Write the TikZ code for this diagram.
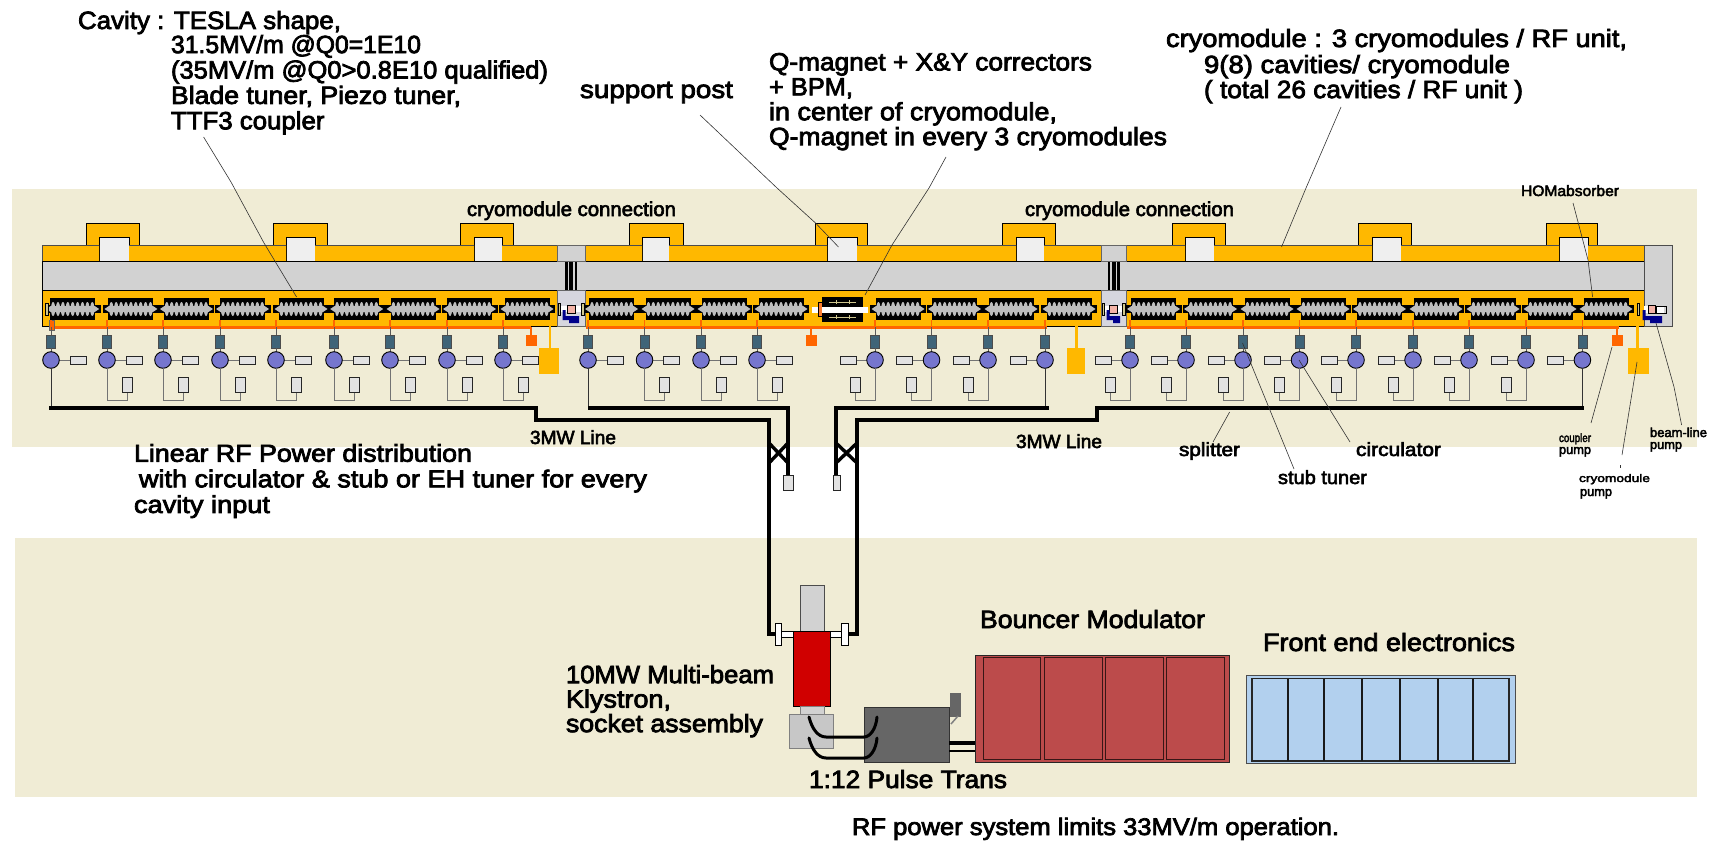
\documentclass[tikz,border=0pt]{standalone}
\usepackage{fontspec}
\usepackage{graphicx}
\setmainfont{Liberation Sans}
\newfontfamily\lf[FakeBold=3]{Liberation Sans}
\definecolor{band}{HTML}{F0ECD5}
\definecolor{cryo}{HTML}{FFB800}
\definecolor{grayp}{HTML}{D2D2D2}
\definecolor{post}{HTML}{EFEFEF}
\definecolor{circ}{HTML}{7676CE}
\definecolor{tuner}{HTML}{3F6478}
\definecolor{loadc}{HTML}{E2E2E2}
\definecolor{orng}{HTML}{FF6600}
\definecolor{modc}{HTML}{BC4B4B}
\definecolor{elec}{HTML}{B2D0EE}
\definecolor{navyb}{HTML}{00008B}
\definecolor{pinkc}{HTML}{F4B4A8}
\definecolor{tanc}{HTML}{CFC78F}
\definecolor{connc}{HTML}{D6D6DE}
\definecolor{klyred}{HTML}{D00000}
\definecolor{cavg}{HTML}{BEBEBE}
\newcommand\W[2]{\resizebox{#1pt}{\height}{#2}}
\newcommand\fs[1]{\fontsize{#1}{#1}\selectfont}
\newcommand\bump[4]{%
  \draw[line width=.9pt,fill=cryo] (#1,245) -- (#1,223) -- (#2,223) -- (#2,245);
  \draw[line width=.9pt,fill=post] (#3,261) -- (#3,237) -- (#4,237) -- (#4,261);}
\newcommand\cavity[1]{%
  \fill[black] (#1-28,305) rectangle (#1+28,313);
  \fill[black] (#1-22.5,298) rectangle (#1+22.5,320);
  \fill[cavg] (#1-26.5,309) -- (#1-22,306) -- (#1+22,306) -- (#1+26.5,309) -- (#1+22,312) -- (#1-22,312) -- cycle;
  \foreach \k in {-4,...,4}{\fill[cavg] (#1+\k*4.9,309) ellipse (2.1 and 7);}}
\newcommand\feedcore[2]{%
  \draw[wire] (#1,320) -- (#1,340);
  \draw[orng,line width=1.6pt] (#1,320) -- (#1,327);
  \fill[tuner,draw=black!70,line width=.4pt] (#1-4.5,335) rectangle (#1+4.5,348);
  \draw[wire] (#1,348) -- (#1,355);
  \draw[wireg] (#1,360) -- (#1+#2*20,360);
  \draw[boxl] (#1+#2*19,356) rectangle (#1+#2*35,364);
  \draw[line width=.9pt,fill=circ] (#1,360) circle (8.3);}
\newcommand\feedsplit[2]{%
  \feedcore{#1}{#2}%
  \draw[wireg] (#1,368) -- (#1,400) -- (#1+#2*20,400) -- (#1+#2*20,392);
  \draw[boxl] (#1+#2*15,377) rectangle (#1+#2*25,392);}
\newcommand\feedmain[2]{%
  \feedcore{#1}{#2}%
  \draw[wired] (#1,368) -- (#1,408);}
\newcommand\conn[2]{%
  \fill[black] ({(#1+#2)/2-6},261) rectangle ({(#1+#2)/2+6},290);
  \fill[grayp] ({(#1+#2)/2-3.5},261) rectangle ({(#1+#2)/2-1.8},290);
  \fill[grayp] ({(#1+#2)/2+2},261) rectangle ({(#1+#2)/2+3.8},290);
  \draw[line width=.5pt,draw=black!60,fill=grayp] (#1,245) rectangle (#2,261);
  \draw[line width=.5pt,draw=black!60,fill=connc] (#1,290) rectangle (#2,326);
  \fill[white] (#1+2,306) rectangle (#2-2,312);
  \draw[fill=tanc,line width=.4pt] (#1+1,303) rectangle (#1+3.5,315);
  \draw[fill=tanc,line width=.4pt] (#2-3.5,303) rectangle (#2-1,315);
  \draw[fill=pinkc,line width=.5pt] ({(#1+#2)/2-4},305) rectangle ({(#1+#2)/2+4},313);
  \fill[navyb] (#1+5.5,310) -- (#1+8.5,310) -- (#1+8.5,316) -- (#2-6,316) -- (#2-6,323) -- (#1+12,323) -- (#1+12,320) -- (#1+5.5,320) -- cycle;}
\begin{document}
\begin{tikzpicture}[x=1pt,y=-1pt,
  wire/.style={draw=black!65,line width=1pt},
  wireg/.style={draw=black!55,line width=1pt},
  wired/.style={draw=black!80,line width=1pt},
  boxl/.style={draw=black!85,fill=loadc,line width=.7pt},
  heavy/.style={line width=3.4pt,draw=black,line join=miter,line cap=butt},
  leader/.style={draw=black!80,line width=.6pt},
  txt/.style={inner sep=0pt,outer sep=0pt,align=left,text=black},
]
\useasboundingbox (0,0) rectangle (1712,840);
\fill[band] (11.5,189) rectangle (1697,447);
\fill[band] (15,538) rectangle (1697,797);
\bump{86}{139}{99}{129}
\bump{273}{327}{286}{315}
\bump{460}{513}{474}{502}
\bump{629}{683}{642}{669}
\bump{815}{867}{827}{857}
\bump{1002}{1055}{1016}{1044}
\bump{1172}{1225}{1185}{1214}
\bump{1358}{1411}{1372}{1401}
\bump{1546}{1597}{1559}{1588}
\begin{scope}[line width=.9pt]
\fill[cryo] (42,245) rectangle (99,261) (129,245) rectangle (286,261) (315,245) rectangle (474,261) (502,245) rectangle (557,261);
\fill[cryo] (585,245) rectangle (642,261) (669,245) rectangle (827,261) (857,245) rectangle (1016,261) (1044,245) rectangle (1101,261);
\fill[cryo] (1126,245) rectangle (1185,261) (1214,245) rectangle (1372,261) (1401,245) rectangle (1559,261) (1588,245) rectangle (1644,261);
\draw[black!70,line width=.7pt] (42,261) -- (42,245) -- (99,245) (129,245) -- (286,245) (315,245) -- (474,245) (502,245) -- (557,245) (585,245) -- (642,245) (669,245) -- (827,245) (857,245) -- (1016,245) (1044,245) -- (1101,245) (1126,245) -- (1185,245) (1214,245) -- (1372,245) (1401,245) -- (1559,245) (1588,245) -- (1644,245);
\draw[fill=grayp] (42,261) rectangle (1644,290);
\draw[black,line width=.8pt,fill=cryo] (42,290) rectangle (557,326);
\draw[black,line width=.8pt,fill=cryo] (585,290) rectangle (1101,326);
\draw[black,line width=.8pt,fill=cryo] (1126,290) rectangle (1644,326);
\end{scope}
\conn{557}{585}
\conn{1101}{1126}
\draw[black!70,line width=.7pt,fill=grayp] (1644,245) rectangle (1672,326);
\fill[white] (1644,306) rectangle (1664,313);
\draw[black,line width=.4pt] (1656,306) rectangle (1666,313);
\draw[fill=tanc,line width=.4pt] (1637,303) rectangle (1639,315);
\draw[fill=pinkc,line width=.5pt] (1648,305) rectangle (1655,313);
\fill[navyb] (1642.5,310) -- (1645.5,310) -- (1645.5,316) -- (1662,316) -- (1662,323) -- (1650,323) -- (1650,320) -- (1642.5,320) -- cycle;
\foreach \x in {72.7,130.9,186.4,242.6,301,356.7,413,469.6,527}{\cavity{\x}}
\foreach \x in {611.6,668,724,781,898,954.5,1011,1069}{\cavity{\x}}
\foreach \x in {1153.5,1210.5,1267,1323,1379.5,1436,1493,1550,1606}{\cavity{\x}}
\draw[fill=tanc,line width=.4pt] (45.6,303) rectangle (48.2,315);
\fill[white] (812,306.5) rectangle (868,312.5);
\draw[fill=orng!70!pinkc,line width=.3pt] (818,302) rectangle (822,316);
\fill[black] (822,297) rectangle (863,322);
\fill[white] (822,306.5) rectangle (868,312.5);
\draw[draw=tanc,line width=.8pt] (829,302) -- (856,302) (829,317) -- (856,317) (836,300) -- (836,304) (849,300) -- (849,304) (836,315) -- (836,319) (849,315) -- (849,319);
\draw[orng,line width=3pt] (50,327.5) -- (531,327.5);
\draw[orng,line width=3pt] (586,327.5) -- (1047,327.5);
\draw[orng,line width=3pt] (1127,327.5) -- (1619,327.5);
\fill[orng,draw=black!60,line width=.3pt] (49,320) rectangle (54,330);
\foreach \x/\y in {531/a,811/b,1617/c}{%
  \draw[orng,line width=2.6pt] (\x,327) -- (\x,337);
  \fill[orng] (\x-5.5,335) rectangle (\x+5.5,346);}
\foreach \x/\l/\r in {550/539/559,1076.5/1067/1085,1637.5/1628/1649}{%
  \draw[cryo,line width=2.6pt] (\x,326) -- (\x,349);
  \fill[cryo] (\l,348) rectangle (\r,374);}
\feedmain{51}{1}
\foreach \x in {107,163,220,276,334,390,447,503,644.5,701,757}{\feedsplit{\x}{1}}
\feedmain{588}{1}
\foreach \x in {875,931.5,988,1130,1186,1243,1299.5,1356,1413,1469,1526}{\feedsplit{\x}{-1}}
\feedmain{1045}{-1}
\feedmain{1582.4}{-1}
\draw[heavy] (49,408) -- (536,408) -- (536,420) -- (769,420) -- (769,634) -- (776,634);
\draw[heavy] (588,408) -- (788,408) -- (788,476);
\draw[heavy] (848,634) -- (857,634) -- (857,420) -- (1097,420) -- (1097,408) -- (1584,408);
\draw[heavy] (1049,408) -- (836,408) -- (836,476);
\draw[heavy] (769,443) -- (788,463) (788,443) -- (769,463);
\draw[heavy] (836,443) -- (857,463) (857,443) -- (836,463);
\draw[boxl] (783,475) rectangle (793,490);
\draw[boxl] (833,475) rectangle (840,490);
\draw[draw=black!70,line width=.9pt,fill=grayp] (800,585) rectangle (824,631);
\draw[line width=.8pt,fill=white] (775,631) rectangle (793,637);
\draw[line width=.8pt,fill=white] (830,631) rectangle (848,637);
\draw[line width=.8pt,fill=white] (775,623) rectangle (781,645);
\draw[line width=.8pt,fill=white] (841,623) rectangle (848,645);
\draw[line width=.9pt,fill=klyred] (793,631) rectangle (830,706);
\draw[draw=black!50,line width=.6pt,fill=grayp] (800,706) rectangle (824,714);
\draw[draw=black!50,line width=.6pt,fill=black!22] (789,714) rectangle (833,748);
\draw[draw=black!60,line width=.7pt,fill=black!60] (950,693) rectangle (960,716);
\draw[draw=black!50,line width=1.5pt] (951,724) -- (958,716);
\draw[draw=black!80,line width=.8pt,fill=black!60] (864,707) rectangle (949,762);
\draw[line width=3pt,line cap=round] (809,717) .. controls (812,729) and (818,737) .. (826,737) -- (864,737) .. controls (870,737) and (876,729) .. (877,717);
\draw[line width=3pt,line cap=round] (809,738) .. controls (812,750) and (818,758) .. (826,758) -- (864,758) .. controls (870,758) and (876,750) .. (877,738);
\draw[line width=3.2pt] (949,743) -- (977,743);
\draw[line width=2.2pt] (949,751) -- (977,751);
\draw[line width=1pt,draw=black!85,fill=modc] (975,655) rectangle (1229,762);
\foreach \l/\r in {983/1040,1044/1102,1105/1163,1166/1224}{\draw[draw=black!70!modc,line width=1pt] (\l,657.5) rectangle (\r,759);}
\draw[line width=.8pt,draw=black!70,fill=elec] (1246,675) rectangle (1515,763);
\draw[line width=1.2pt,draw=black!85] (1252,678.5) rectangle (1509,761);
\foreach \x in {1288,1324,1362,1400,1438,1473}{\draw[line width=1.2pt,draw=black!90] (\x,678.5) -- (\x,761);}
\draw[leader] (203.6,137) -- (231,182) -- (264,243) -- (296.6,297);
\draw[leader] (700,115) -- (777,188) -- (815.5,223) -- (838.5,247);
\draw[leader] (946,157) -- (929,188) -- (892,245) -- (865,295);
\draw[leader] (1341,107) -- (1306,188) -- (1281.5,247);
\draw[leader] (1573,203) -- (1588,260) -- (1592.6,297);
\draw[leader] (1681.6,425) -- (1674,387) -- (1656,323);
\draw[leader] (1591,423) -- (1612,347);
\draw[leader] (1622,455) -- (1637,362);
\draw[leader] (1620,465) -- (1620,468);
\draw[leader] (1213,442) -- (1229.6,412);
\draw[leader] (1350,442) -- (1299,360);
\draw[leader] (1294,469) -- (1242.5,343);
\node[txt,anchor=base west,font=\lf\fs{25}] (cav0) at (78,29) {\W{263}{Cavity : TESLA shape,}};
\node[txt,anchor=north west,font=\lf\fontsize{25}{25.4}\selectfont] (cav1) at (171,35) {\W{250}{31.5MV/m @Q0=1E10}\\\W{377}{(35MV/m @Q0>0.8E10 qualified)}\\\W{290}{Blade tuner, Piezo tuner,}\\\W{153.5}{TTF3 coupler}};
\node[txt,anchor=base west,font=\lf\fs{25}] (sup) at (580,98) {\W{153}{support post}};
\node[txt,anchor=north west,font=\lf\fontsize{25}{24.9}\selectfont] (qm) at (769,53) {\W{323}{Q-magnet + X\&Y correctors}\\\W{84}{+ BPM,}\\\W{288}{in center of cryomodule,}\\\W{398}{Q-magnet in every 3 cryomodules}};
\node[txt,anchor=base west,font=\lf\fs{25}] (cm0) at (1166,47) {\W{461}{cryomodule : 3 cryomodules / RF unit,}};
\node[txt,anchor=north west,font=\lf\fontsize{25}{25}\selectfont] (cm1) at (1204,55) {\W{306}{9(8) cavities/ cryomodule}\\\W{319}{( total 26 cavities / RF unit )}};
\node[txt,anchor=base west,font=\lf\fs{20}] (conn1) at (467,216) {\W{209}{cryomodule connection}};
\node[txt,anchor=base west,font=\lf\fs{20}] (conn2) at (1025,216) {\W{209}{cryomodule connection}};
\node[txt,anchor=base west,font=\lf\fs{15}] (hom) at (1521,196) {\W{98}{HOMabsorber}};
\node[txt,anchor=base west,font=\lf\fs{19}] (l3a) at (530,444) {\W{86}{3MW Line}};
\node[txt,anchor=base west,font=\lf\fs{19}] (l3b) at (1016,448) {\W{86}{3MW Line}};
\node[txt,anchor=north west,font=\lf\fontsize{24.5}{25.6}\selectfont] (lin) at (134,444) {\W{338}{Linear RF Power distribution}\\\hspace*{5pt}\W{508}{with circulator \& stub or EH tuner for every}\\\W{136}{cavity input}};
\node[txt,anchor=base west,font=\lf\fs{19}] (spl) at (1179,456) {\W{61}{splitter}};
\node[txt,anchor=base west,font=\lf\fs{19}] (cir) at (1356,456) {\W{85}{circulator}};
\node[txt,anchor=base west,font=\lf\fs{19}] (stb) at (1278,484) {\W{89}{stub tuner}};
\node[txt,anchor=base west,font=\lf\fs{12}] (cp1) at (1559,442) {\W{32}{coupler}};
\node[txt,anchor=base west,font=\lf\fs{13}] (cp2) at (1559,454) {\W{32}{pump}};
\node[txt,anchor=base west,font=\lf\fs{13}] (bl1) at (1650,437) {\W{57}{beam-line}};
\node[txt,anchor=base west,font=\lf\fs{13}] (bl2) at (1650,449) {\W{32}{pump}};
\node[txt,anchor=base west,font=\lf\fs{11}] (cr1) at (1579,482) {\W{71}{cryomodule}};
\node[txt,anchor=base west,font=\lf\fs{13}] (cr2) at (1580,496) {\W{32}{pump}};
\node[txt,anchor=north west,font=\lf\fontsize{25}{24.5}\selectfont] (kly) at (566,665) {\W{208}{10MW Multi-beam}\\\W{105}{Klystron,}\\\W{197}{socket assembly}};
\node[txt,anchor=base west,font=\lf\fs{25}] (bm) at (980,628) {\W{225}{Bouncer Modulator}};
\node[txt,anchor=base west,font=\lf\fs{25}] (fe) at (1263,651) {\W{252}{Front end electronics}};
\node[txt,anchor=base west,font=\lf\fs{25}] (pt) at (809,788) {\W{198}{1:12 Pulse Trans}};
\node[txt,anchor=base west,font=\lf\fs{24}] (rf) at (852,835) {\W{487}{RF power system limits 33MV/m operation.}};
\end{tikzpicture}
\end{document}
